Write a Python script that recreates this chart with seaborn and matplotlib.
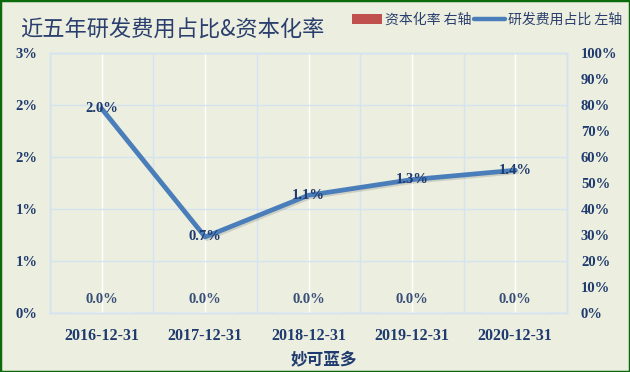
import matplotlib
matplotlib.use('Agg')
import matplotlib.pyplot as plt
import seaborn as sns
import pandas as pd
from matplotlib.patches import Patch, Rectangle
from matplotlib.lines import Line2D
import matplotlib.patheffects as pe
from matplotlib.ticker import FixedLocator, FixedFormatter, MultipleLocator

# ---- data ----
categories = ['2016-12-31', '2017-12-31', '2018-12-31', '2019-12-31', '2020-12-31']
rd_ratio = [1.96, 0.73, 1.13, 1.28, 1.37]      # 研发费用占比 (%), left axis
cap_rate = [0.0, 0.0, 0.0, 0.0, 0.0]           # 资本化率 (%), right axis
left_ticks = [0, 0.5, 1.0, 1.5, 2.0, 2.5]
left_tick_labels = ['0%', '1%', '1%', '2%', '2%', '3%']
right_ticks = [0, 10, 20, 30, 40, 50, 60, 70, 80, 90, 100]
right_tick_labels = [f'{t}%' for t in right_ticks]
title = '近五年研发费用占比&资本化率'
xlabel = '妙可蓝多'
legend_labels = ['资本化率 右轴', '研发费用占比 左轴']

sns.set_theme(style='white')
plt.rcParams['font.family'] = ['Liberation Serif', 'DejaVu Sans']
CJK = ['Noto Sans CJK SC', 'DejaVu Sans']

BG = '#ECEFDF'
NAVY = '#1F3A6E'
GRID = '#D5E2F2'
LINE = '#4A7EBB'
BAR = '#C0504D'

fig = plt.figure(figsize=(6.3, 3.72), dpi=100, facecolor=BG)
ax1 = fig.add_axes([50/630, 1-313/372, (567-50)/630, (313-52.5)/372])
ax1.set_facecolor(BG)
ax2 = ax1.twinx()

df = pd.DataFrame({'date': categories, 'rd': rd_ratio, 'cap': cap_rate})

sns.lineplot(data=df, x='date', y='rd', ax=ax1, sort=False, color=LINE,
             linewidth=3.4, zorder=5,
             path_effects=[pe.SimpleLineShadow(offset=(1.2, -1.2), shadow_color='#666666', alpha=0.22),
                           pe.Normal()])
sns.barplot(data=df, x='date', y='cap', ax=ax2, color=BAR, width=0.6)

ax1.set_xlim(-0.5, len(categories)-0.5)
ax1.set_ylim(0, 2.5)
ax2.set_ylim(0, 100)

ax1.yaxis.set_major_locator(FixedLocator(left_ticks))
ax1.yaxis.set_major_formatter(FixedFormatter(left_tick_labels))
ax2.yaxis.set_major_locator(FixedLocator(right_ticks))
ax2.yaxis.set_major_formatter(FixedFormatter(right_tick_labels))

ax1.set_xticks(range(len(categories)))
ax1.set_xticklabels(categories)
ax1.xaxis.set_minor_locator(MultipleLocator(1, offset=0.5))

ax1.tick_params(axis='y', length=0, pad=9, labelsize=10.5, labelcolor=NAVY)
ax2.tick_params(axis='y', length=0, pad=10, labelsize=10.5, labelcolor=NAVY)
ax1.tick_params(axis='x', which='both', length=0, pad=11, labelsize=11.5, labelcolor=NAVY)
for lab in ax1.get_yticklabels() + ax2.get_yticklabels() + ax1.get_xticklabels():
    lab.set_fontweight('bold')

ax1.grid(axis='y', color=GRID, linewidth=1)
ax1.grid(axis='x', which='major', color='white', linewidth=1)
ax1.grid(axis='x', which='minor', color=GRID, linewidth=1)
ax1.set_axisbelow(True)
for ax in (ax1, ax2):
    for s in ax.spines.values():
        s.set_color(GRID)
        s.set_linewidth(1)
ax2.set_ylabel('')
ax1.set_ylabel('')

ax1.set_xlabel(xlabel, family=CJK, fontsize=12, fontweight='bold', color=NAVY, labelpad=4)
ax1.xaxis.set_label_coords(0.53, -0.145)

# data labels
for i, v in enumerate(rd_ratio):
    ax1.text(i, v, f'{v:.1f}%', ha='center', va='center', fontsize=10.5,
             fontweight='bold', color=NAVY, zorder=6)
for i, v in enumerate(cap_rate):
    ax2.annotate(f'{v:.1f}%', (i, v), xytext=(0, 5), textcoords='offset points',
                 ha='center', va='bottom', fontsize=10.5, fontweight='bold', color='#3A4F78')

# title
fig.text(20/630, 1-30/372, title, family=CJK, fontsize=16, fontweight='medium',
         color='#2B3F6E', ha='left', va='center')

# legend
handles = [Patch(facecolor=BAR, edgecolor='none'),
           Line2D([0], [0], color=LINE, linewidth=3.2)]
fig.legend(handles, legend_labels, loc='center right', bbox_to_anchor=(1.0, 1-20/372),
           ncol=2, frameon=False, prop={'family': CJK, 'size': 10},
           labelcolor='#2B3F6E', handlelength=2.2, handleheight=0.7,
           handletextpad=0.2, columnspacing=0.2, borderaxespad=0.2)

# outer border
fig.patches.append(Rectangle((0, 0), 1, 1, transform=fig.transFigure, fill=False,
                             edgecolor='#0B6A0B', linewidth=2.5, zorder=10))

fig.savefig('out.png', dpi=100, facecolor=BG)
